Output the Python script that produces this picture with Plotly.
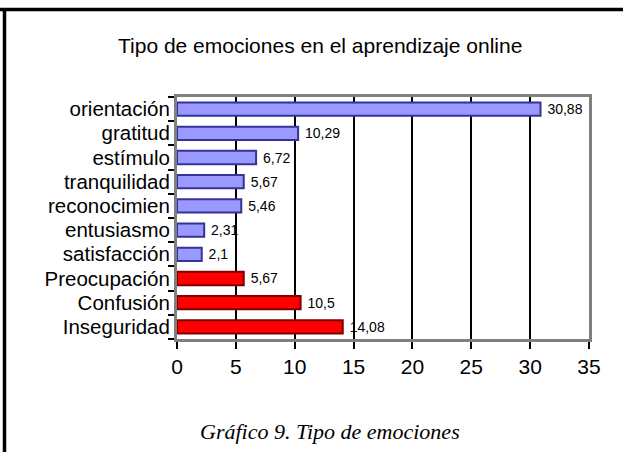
import plotly.graph_objects as go

categories = ["orientación", "gratitud", "estímulo", "tranquilidad", "reconocimien",
              "entusiasmo", "satisfacción", "Preocupación", "Confusión", "Inseguridad"]
values = [30.88, 10.29, 6.72, 5.67, 5.46, 2.31, 2.1, 5.67, 10.5, 14.08]
value_labels = ["30,88", "10,29", "6,72", "5,67", "5,46", "2,31", "2,1", "5,67", "10,5", "14,08"]
groups = ["pos"] * 7 + ["neg"] * 3
x_ticks = [0, 5, 10, 15, 20, 25, 30, 35]

fill = {"pos": "#9999ff", "neg": "#ff0000"}
edge = {"pos": "#333399", "neg": "#800000"}

W, H = 623, 452
L, R, T, B = 177, 34, 97, 113
pw, ph = W - L - R, H - T - B

def px(xp):
    return (xp - L) / pw

def py(yp):
    return (H - B - yp) / ph

fig = go.Figure(go.Bar(
    y=categories, x=values, orientation="h",
    marker=dict(color=[fill[g] for g in groups],
                line=dict(color=[edge[g] for g in groups], width=2)),
    width=0.55,
    text=value_labels, texttemplate=" %{text}", textposition="outside",
    constraintext="none",
    textfont=dict(family="Arial", size=14, color="black"),
    cliponaxis=False,
))

fig.update_layout(
    width=W, height=H,
    margin=dict(l=L, r=R, t=T, b=B),
    paper_bgcolor="white", plot_bgcolor="white",
    showlegend=False,
    font=dict(family="Arial", color="black"),
    xaxis=dict(range=[0, 35], tickvals=x_ticks, ticktext=[str(v) for v in x_ticks],
               showgrid=True, gridcolor="black", gridwidth=1.5,
               showline=True, linecolor="#808080", linewidth=3, mirror=True,
               ticks="outside", ticklen=7, tickcolor="black", tickwidth=1.5,
               tickfont=dict(family="Arial", size=21, color="black"),
               zeroline=False, fixedrange=True),
    yaxis=dict(autorange="reversed", type="category",
               tickmode="array", tickvals=categories, ticktext=categories,
               showline=True, linecolor="#808080", linewidth=3, mirror=True,
               ticks="outside", ticklen=6, tickcolor="black", tickwidth=1.5,
               tickson="boundaries",
               tickfont=dict(family="Arial", size=20.5, color="black"),
               showgrid=False, fixedrange=True),
    shapes=[
        dict(type="line", xref="paper", yref="paper",
             x0=px(0), x1=px(W), y0=py(9.5), y1=py(9.5),
             line=dict(color="black", width=3.5)),
        dict(type="line", xref="paper", yref="paper",
             x0=px(4.5), x1=px(4.5), y0=py(9.5), y1=py(H),
             line=dict(color="black", width=3.5)),
    ],
    annotations=[
        dict(text="Tipo de emociones en el aprendizaje online", xref="paper", yref="paper",
             x=px(320), y=py(45), showarrow=False, xanchor="center", yanchor="middle",
             font=dict(family="Arial", size=21, color="black")),
        dict(text="<i>Gráfico 9. Tipo de emociones</i>", xref="paper", yref="paper",
             x=px(330), y=py(431), showarrow=False, xanchor="center", yanchor="middle",
             font=dict(family="Liberation Serif", size=22, color="black")),
    ],
)

fig.write_html("out.html", config={"displayModeBar": False},
               post_script="document.body.style.margin='0';")
